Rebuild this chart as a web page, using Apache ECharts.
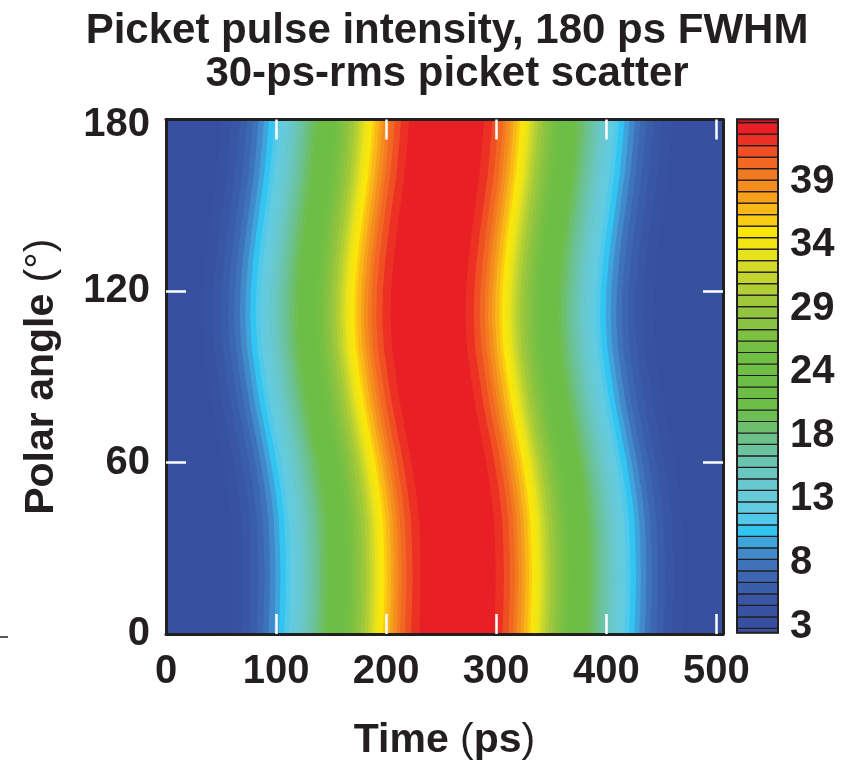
<!DOCTYPE html>
<html>
<head>
<meta charset="utf-8">
<title>Picket pulse intensity</title>
<script src="https://cdn.jsdelivr.net/npm/echarts@6/dist/echarts.min.js"></script>
<style>
  html, body { margin: 0; padding: 0; background: #ffffff; }
  #chart { width: 846px; height: 761px; }
</style>
</head>
<body>
<div id="chart"></div>
<script>
// Polar angles (deg) at which the pulse centre time is sampled
const polarAngles = [0, 10, 20, 30, 40, 50, 60, 70, 80, 90, 100, 110, 120, 130, 140, 150, 160, 170, 180];
// Arrival time of the pulse centre at each polar angle (ps)
const pulseCentre = [264, 265, 265.5, 265, 264, 261, 257, 252, 247, 243, 239.5, 238, 238.5, 240.5, 243.5, 247, 250.5, 253, 255];

// Intensity contour levels that bound the colour bands (lowest first)
const contourLevels = [2.86, 3.79, 4.72, 5.65, 6.58, 7.51, 8.44, 9.37, 10.30, 11.23, 12.16, 13.09, 14.02, 14.95,
  15.88, 16.81, 17.74, 18.67, 19.60, 20.53, 21.46, 22.39, 23.32, 24.25, 25.18, 26.11, 27.04, 27.97, 28.90, 29.83,
  30.76, 31.69, 32.62, 33.55, 34.48, 35.41, 36.34, 37.27, 38.20, 39.13, 40.06, 40.99, 41.92, 42.85, 43.78];
// Half-width (ps) of the pulse at each contour level, measured from the pulse centre (0 = level not reached)
const levelHalfWidth = [220, 205, 195.5, 188, 181.5, 176, 171, 166, 161.5, 156.5, 152.5, 148, 144, 140, 136.5,
  133, 129, 125.5, 121.5, 118, 114, 110.5, 107, 103.5, 100, 96.5, 93.5, 90, 87, 83.5, 80.5, 78, 75.5, 73, 70,
  67, 64.5, 61, 58, 54.5, 51.5, 47, 41.5, 34, 0];

// Colour bar extent and one colour per band, lowest band first
const colorbarMin = 2.51;
const colorbarMax = 44.05;
const bandColors = ['#3651a0', '#36509f', '#3752a0', '#3856a4', '#3a5dab', '#3c66b1', '#3e73b9', '#4189c8',
  '#3fa3dc', '#33c5f2', '#50c9ea', '#62cbe0', '#67cad8', '#69c8cd', '#69c7bf', '#6ac5b0', '#6bc39e', '#6cc189',
  '#6dbf6e', '#6dbe54', '#6dbe47', '#6dbe45', '#6dbe45', '#6ebe45', '#70bf45', '#74bf44', '#7dc143', '#87c341',
  '#92c53f', '#a0c83b', '#b1ce35', '#c2d52f', '#d3db28', '#e6e21b', '#f2e512', '#fce60a', '#fbcd12', '#f9b817',
  '#f6a01b', '#f48c1e', '#f37a20', '#f26722', '#f04e23', '#ed3024', '#e81f25', '#c4161c'];

// Axis ticks
const timeLabels = [0, 100, 200, 300, 400, 500];
const timeTicks = [100, 200, 300, 400, 500];
const angleLabels = [0, 60, 120, 180];
const angleTicks = [60, 120];
const colorbarTicks = [3, 8.14, 13.29, 18.43, 23.57, 28.71, 33.86, 39];

const INK = '#231f20';
const FONT = 'Liberation Sans, Arial, Helvetica, sans-serif';
const labelStyle = { fontFamily: FONT, fontSize: 40, fontWeight: 'bold', color: INK };

const chart = echarts.init(document.getElementById('chart'), null, { renderer: 'canvas' });

// Band edges for the colour bar: bottom of bar, every contour level, top of bar
const bandEdges = [colorbarMin].concat(contourLevels, [colorbarMax]);

function frameAxis(extra) {
  return Object.assign({
    type: 'value',
    z: 10,
    splitLine: { show: false },
    axisLine: { show: true, onZero: false, lineStyle: { color: INK, width: 3 } }
  }, extra);
}

const option = {
  animation: false,
  backgroundColor: '#ffffff',
  graphic: [
    { type: 'text', x: 447, y: 31, style: { text: 'Picket pulse intensity, 180 ps FWHM', fill: INK,
      font: 'bold 42px ' + FONT, textAlign: 'center', textVerticalAlign: 'middle' } },
    { type: 'text', x: 447, y: 74, style: { text: '30-ps-rms picket scatter', fill: INK,
      font: 'bold 42px ' + FONT, textAlign: 'center', textVerticalAlign: 'middle' } },
    { type: 'line', shape: { x1: 0, y1: 637, x2: 8, y2: 637 }, style: { stroke: INK, lineWidth: 1.5 } }
  ],
  grid: [
    { left: 166, top: 119.5, width: 557, height: 514.5, show: true, backgroundColor: bandColors[0], borderWidth: 0,
      outerBoundsMode: 'none', containLabel: false },
    { left: 737, top: 119.3, width: 41, height: 513.4, show: true, backgroundColor: 'transparent',
      borderColor: INK, borderWidth: 2, z: 5, outerBoundsMode: 'none', containLabel: false }
  ],
  xAxis: [
    frameAxis({
      gridIndex: 0, position: 'bottom', min: 0, max: 506,
      axisTick: { show: true, inside: true, length: 20, customValues: timeTicks, lineStyle: { color: '#ffffff', width: 2.5 } },
      axisLabel: Object.assign({ customValues: timeLabels, margin: 18 }, labelStyle),
      name: 'Time {p|(}ps{p|)}', nameLocation: 'middle', nameGap: 86,
      nameTextStyle: Object.assign({}, labelStyle, { fontSize: 41, rich: { p: { fontFamily: FONT, fontSize: 41, fontWeight: 'normal', color: INK } } })
    }),
    frameAxis({
      gridIndex: 0, position: 'top', min: 0, max: 506,
      axisTick: { show: true, inside: true, length: 20, customValues: timeTicks, lineStyle: { color: '#ffffff', width: 2.5 } },
      axisLabel: { show: false }
    }),
    { gridIndex: 1, type: 'value', min: 0, max: 1, show: false }
  ],
  yAxis: [
    frameAxis({
      gridIndex: 0, position: 'left', min: 0, max: 180,
      axisTick: { show: true, inside: true, length: 20, customValues: angleTicks, lineStyle: { color: '#ffffff', width: 2.5 } },
      axisLabel: Object.assign({
        customValues: angleLabels, margin: 16,
        // the top label sits a little below the frame corner
        formatter: v => (v === 180 ? '{top|180}' : String(v)),
        rich: { top: Object.assign({ padding: [11, 0, 0, 0] }, labelStyle) }
      }, labelStyle),
      name: 'Polar angle {p|(°)}', nameLocation: 'middle', nameGap: 104,
      nameTextStyle: Object.assign({}, labelStyle, { fontSize: 41, rich: { p: { fontFamily: FONT, fontSize: 41, fontWeight: 'normal', color: INK } } })
    }),
    frameAxis({
      gridIndex: 0, position: 'right', min: 0, max: 180,
      axisTick: { show: true, inside: true, length: 20, customValues: angleTicks, lineStyle: { color: '#ffffff', width: 2.5 } },
      axisLabel: { show: false }
    }),
    {
      gridIndex: 1, type: 'value', position: 'right', min: colorbarMin, max: colorbarMax,
      splitLine: { show: false },
      axisLine: { show: false },
      axisTick: { show: false },
      axisLabel: Object.assign({ customValues: colorbarTicks, margin: 12, formatter: v => String(Math.round(v)) }, labelStyle)
    }
  ],
  series: [
    {
      // Intensity map: one filled region per contour level, nested around the pulse centre
      type: 'custom',
      coordinateSystem: 'cartesian2d',
      xAxisIndex: 0,
      yAxisIndex: 0,
      clip: true,
      silent: true,
      data: contourLevels.map((lv, i) => [i, lv]),
      renderItem: function (params, api) {
        const k = params.dataIndex;
        const w = levelHalfWidth[k];
        if (!w) return null;
        const pts = [];
        for (let i = 0; i < polarAngles.length; i++) {
          pts.push(api.coord([pulseCentre[i] - w, polarAngles[i]]));
        }
        for (let i = polarAngles.length - 1; i >= 0; i--) {
          pts.push(api.coord([pulseCentre[i] + w, polarAngles[i]]));
        }
        return { type: 'polygon', shape: { points: pts }, style: { fill: bandColors[k + 1] } };
      }
    },
    {
      // Colour bar bands
      type: 'custom',
      coordinateSystem: 'cartesian2d',
      xAxisIndex: 2,
      yAxisIndex: 2,
      silent: true,
      data: bandColors.map((c, i) => [i]),
      renderItem: function (params, api) {
        const i = params.dataIndex;
        const p0 = api.coord([0, bandEdges[i]]);
        const p1 = api.coord([1, bandEdges[i + 1]]);
        return {
          type: 'rect',
          shape: { x: p0[0], y: p1[1], width: p1[0] - p0[0], height: p0[1] - p1[1] },
          style: { fill: bandColors[i], stroke: INK, lineWidth: 1.2 }
        };
      }
    }
  ]
};

chart.setOption(option);
</script>
</body>
</html>
